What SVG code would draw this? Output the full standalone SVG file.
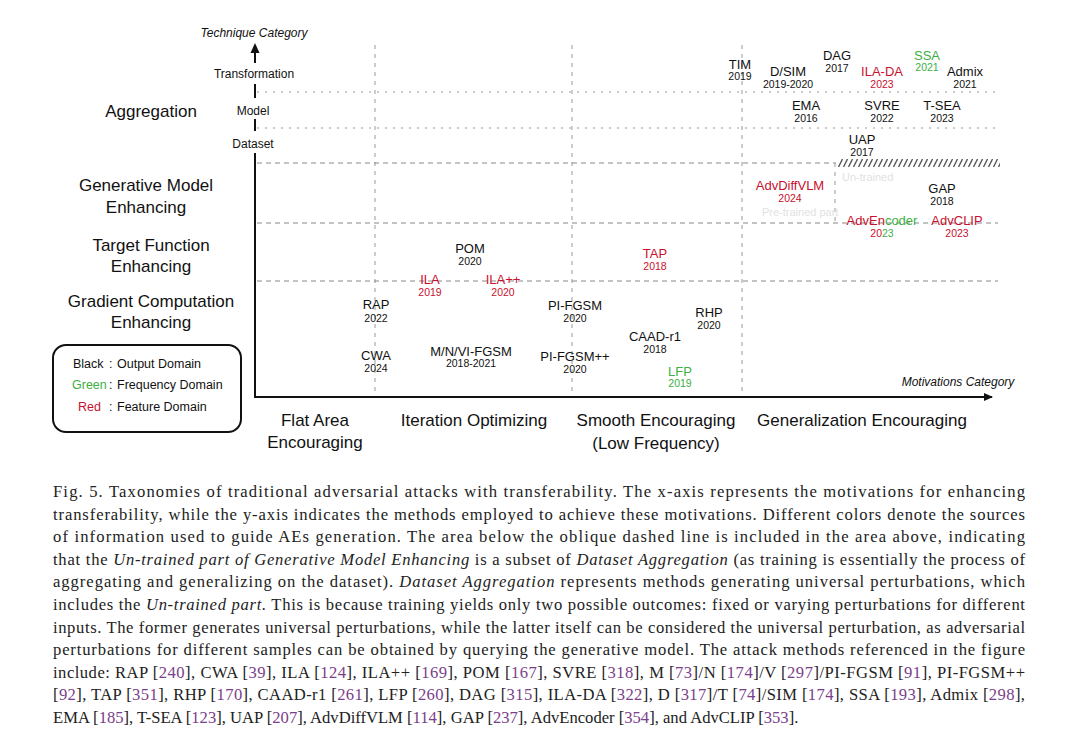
<svg xmlns="http://www.w3.org/2000/svg" width="1080" height="737" viewBox="0 0 1080 737">
<style>
.lab{font-family:"Liberation Sans","DejaVu Sans",sans-serif;fill:#111;text-anchor:middle}
.cat{font-size:17px}
.sub{font-size:12px}
.nm{font-size:13px}
.yr{font-size:10.5px}
.red{fill:#c8102e}
.grn{fill:#3cb043}
.ax{stroke:#111;stroke-width:2;fill:none}
.dh{stroke:#888;stroke-width:1;stroke-dasharray:5 4;fill:none}
.dt{stroke:#999;stroke-width:1;stroke-dasharray:2 6;fill:none}
.dv{stroke:#999;stroke-width:1;stroke-dasharray:4 5;fill:none}
.cap{font-family:"Liberation Serif","DejaVu Serif",serif;font-size:16.6px;fill:#222}
.ref{fill:#7a3e8a}
.it{font-style:italic}
.faint{font-family:"Liberation Sans",sans-serif;font-size:11px;fill:#e2e2e2}
</style>
<defs>
<marker id="arr" markerWidth="10" markerHeight="10" refX="8" refY="5" orient="auto" markerUnits="userSpaceOnUse">
<path d="M0,1 L9,5 L0,9 Z" fill="#111"/>
</marker>
<pattern id="hatch" patternUnits="userSpaceOnUse" width="5" height="8" x="838" y="159">
<line x1="0.5" y1="8" x2="4.5" y2="0" stroke="#555" stroke-width="1.3"/>
</pattern>
</defs>
<rect width="1080" height="737" fill="#fff"/>

<g id="grid">
<path class="dv" d="M375 45V397M572 45V397M742 45V397"/>
<path class="dt" d="M257 92H998M257 128H998"/>
<path class="dh" d="M257 163H836M257 223H998M257 281H998"/>
<path class="dv" d="M835 163V223"/>
<rect x="838" y="159" width="162" height="8" fill="url(#hatch)"/>
<text class="faint" x="842" y="181">Un-trained</text>
<text class="faint" x="762" y="216">Pre-trained part</text>
</g>

<g id="connectors">
<path class="ax" d="M255 397V153M255 131V119M255 98V84M255 63V49"/>
<path d="M255 43 L250.5 53 L259.5 53 Z" fill="#111"/>
<path class="ax" d="M254 397H992" marker-end="url(#arr)"/>
</g>

<g id="axis-labels" class="lab">
<text x="254" y="37" class="sub" style="font-style:italic">Technique Category</text>
<text x="254" y="78" class="sub">Transformation</text>
<text x="253" y="115" class="sub">Model</text>
<text x="253" y="148" class="sub">Dataset</text>
<text x="958" y="386" class="sub" style="font-style:italic">Motivations Category</text>
</g>

<g id="y-categories" class="lab cat">
<text x="151" y="117">Aggregation</text>
<text x="146" y="191">Generative Model</text>
<text x="146" y="213">Enhancing</text>
<text x="151" y="251">Target Function</text>
<text x="151" y="272">Enhancing</text>
<text x="151" y="307">Gradient Computation</text>
<text x="151" y="328">Enhancing</text>
</g>

<g id="x-categories" class="lab cat">
<text x="315" y="426">Flat Area</text>
<text x="315" y="448">Encouraging</text>
<text x="474" y="426">Iteration Optimizing</text>
<text x="656" y="426">Smooth Encouraging</text>
<text x="656" y="449">(Low Frequency)</text>
<text x="862" y="426">Generalization Encouraging</text>
</g>

<g id="legend">
<rect x="53" y="345" width="188" height="87" rx="13" fill="none" stroke="#111" stroke-width="2"/>
<g font-family="Liberation Sans,sans-serif" font-size="12.5" fill="#111">
<text x="73" y="368">Black</text><text x="109" y="368">:</text><text x="117" y="368">Output Domain</text>
<text x="72" y="389" fill="#3cb043">Green</text><text x="109" y="389">:</text><text x="117" y="389">Frequency Domain</text>
<text x="78" y="411" fill="#c8102e">Red</text><text x="109" y="411">:</text><text x="117" y="411">Feature Domain</text>
</g>
</g>

<g id="n-TIM" class="lab"><text class="nm" x="740" y="69">TIM</text><text class="yr" x="740" y="80">2019</text></g>
<g id="n-DSIM" class="lab"><text class="nm" x="788" y="76">D/SIM</text><text class="yr" x="788" y="88">2019-2020</text></g>
<g id="n-DAG" class="lab"><text class="nm" x="837" y="60">DAG</text><text class="yr" x="837" y="72">2017</text></g>
<g id="n-ILADA" class="lab"><text class="nm red" x="882" y="76">ILA-DA</text><text class="yr red" x="882" y="88">2023</text></g>
<g id="n-SSA" class="lab"><text class="nm grn" x="927" y="60">SSA</text><text class="yr grn" x="927" y="71">2021</text></g>
<g id="n-Admix" class="lab"><text class="nm" x="965" y="76">Admix</text><text class="yr" x="965" y="88">2021</text></g>
<g id="n-EMA" class="lab"><text class="nm" x="806" y="110">EMA</text><text class="yr" x="806" y="122">2016</text></g>
<g id="n-SVRE" class="lab"><text class="nm" x="882" y="110">SVRE</text><text class="yr" x="882" y="122">2022</text></g>
<g id="n-TSEA" class="lab"><text class="nm" x="942" y="110">T-SEA</text><text class="yr" x="942" y="122">2023</text></g>
<g id="n-UAP" class="lab"><text class="nm" x="862" y="144">UAP</text><text class="yr" x="862" y="156">2017</text></g>
<g id="n-AdvDiffVLM" class="lab"><text class="nm red" x="790" y="190">AdvDiffVLM</text><text class="yr red" x="790" y="202">2024</text></g>
<g id="n-GAP" class="lab"><text class="nm" x="942" y="193">GAP</text><text class="yr" x="942" y="205">2018</text></g>
<g id="n-AdvEncoder" class="lab"><text class="nm" x="882" y="225"><tspan class="red">AdvEn</tspan><tspan class="grn">coder</tspan></text><text class="yr" x="882" y="237"><tspan class="red">20</tspan><tspan class="grn">23</tspan></text></g>
<g id="n-AdvCLIP" class="lab"><text class="nm red" x="957" y="225">AdvCLIP</text><text class="yr red" x="957" y="237">2023</text></g>
<g id="n-POM" class="lab"><text class="nm" x="470" y="253">POM</text><text class="yr" x="470" y="265">2020</text></g>
<g id="n-ILA" class="lab"><text class="nm red" x="430" y="284">ILA</text><text class="yr red" x="430" y="296">2019</text></g>
<g id="n-ILApp" class="lab"><text class="nm red" x="503" y="284">ILA++</text><text class="yr red" x="503" y="296">2020</text></g>
<g id="n-TAP" class="lab"><text class="nm red" x="655" y="258">TAP</text><text class="yr red" x="655" y="270">2018</text></g>
<g id="n-RAP" class="lab"><text class="nm" x="376" y="309">RAP</text><text class="yr" x="376" y="322">2022</text></g>
<g id="n-PIFGSM" class="lab"><text class="nm" x="575" y="310">PI-FGSM</text><text class="yr" x="575" y="322">2020</text></g>
<g id="n-RHP" class="lab"><text class="nm" x="709" y="317">RHP</text><text class="yr" x="709" y="329">2020</text></g>
<g id="n-CAAD" class="lab"><text class="nm" x="655" y="341">CAAD-r1</text><text class="yr" x="655" y="353">2018</text></g>
<g id="n-CWA" class="lab"><text class="nm" x="376" y="360">CWA</text><text class="yr" x="376" y="372">2024</text></g>
<g id="n-MNVI" class="lab"><text class="nm" x="471" y="356">M/N/VI-FGSM</text><text class="yr" x="471" y="367">2018-2021</text></g>
<g id="n-PIFGSMpp" class="lab"><text class="nm" x="575" y="361">PI-FGSM++</text><text class="yr" x="575" y="373">2020</text></g>
<g id="n-LFP" class="lab"><text class="nm grn" x="680" y="376">LFP</text><text class="yr grn" x="680" y="387">2019</text></g>

<g id="caption" class="cap">
<text x="53" y="497" textLength="972" lengthAdjust="spacing">Fig. 5.  Taxonomies of traditional adversarial attacks with transferability. The x-axis represents the motivations for enhancing</text>
<text x="53" y="520" textLength="972" lengthAdjust="spacing">transferability, while the y-axis indicates the methods employed to achieve these motivations. Different colors denote the sources</text>
<text x="53" y="542" textLength="972" lengthAdjust="spacing">of information used to guide AEs generation. The area below the oblique dashed line is included in the area above, indicating</text>
<text x="53" y="565" textLength="972" lengthAdjust="spacing">that the <tspan class="it">Un-trained part of Generative Model Enhancing</tspan> is a subset of <tspan class="it">Dataset Aggregation</tspan> (as training is essentially the process of</text>
<text x="53" y="587" textLength="972" lengthAdjust="spacing">aggregating and generalizing on the dataset). <tspan class="it">Dataset Aggregation</tspan> represents methods generating universal perturbations, which</text>
<text x="53" y="610" textLength="972" lengthAdjust="spacing">includes the <tspan class="it">Un-trained part.</tspan> This is because training yields only two possible outcomes: fixed or varying perturbations for different</text>
<text x="53" y="633" textLength="972" lengthAdjust="spacing">inputs. The former generates universal perturbations, while the latter itself can be considered the universal perturbation, as adversarial</text>
<text x="53" y="655" textLength="972" lengthAdjust="spacing">perturbations for different samples can be obtained by querying the generative model. The attack methods referenced in the figure</text>
<text x="53" y="678" textLength="972" lengthAdjust="spacing">include: RAP [<tspan class="ref">240</tspan>], CWA [<tspan class="ref">39</tspan>], ILA [<tspan class="ref">124</tspan>], ILA++ [<tspan class="ref">169</tspan>], POM [<tspan class="ref">167</tspan>], SVRE [<tspan class="ref">318</tspan>], M [<tspan class="ref">73</tspan>]/N [<tspan class="ref">174</tspan>]/V [<tspan class="ref">297</tspan>]/PI-FGSM [<tspan class="ref">91</tspan>], PI-FGSM++</text>
<text x="53" y="700" textLength="972" lengthAdjust="spacing">[<tspan class="ref">92</tspan>], TAP [<tspan class="ref">351</tspan>], RHP [<tspan class="ref">170</tspan>], CAAD-r1 [<tspan class="ref">261</tspan>], LFP [<tspan class="ref">260</tspan>], DAG [<tspan class="ref">315</tspan>], ILA-DA [<tspan class="ref">322</tspan>], D [<tspan class="ref">317</tspan>]/T [<tspan class="ref">74</tspan>]/SIM [<tspan class="ref">174</tspan>], SSA [<tspan class="ref">193</tspan>], Admix [<tspan class="ref">298</tspan>],</text>
<text x="53" y="723">EMA [<tspan class="ref">185</tspan>], T-SEA [<tspan class="ref">123</tspan>], UAP [<tspan class="ref">207</tspan>], AdvDiffVLM [<tspan class="ref">114</tspan>], GAP [<tspan class="ref">237</tspan>], AdvEncoder [<tspan class="ref">354</tspan>], and AdvCLIP [<tspan class="ref">353</tspan>].</text>
</g>
</svg>
